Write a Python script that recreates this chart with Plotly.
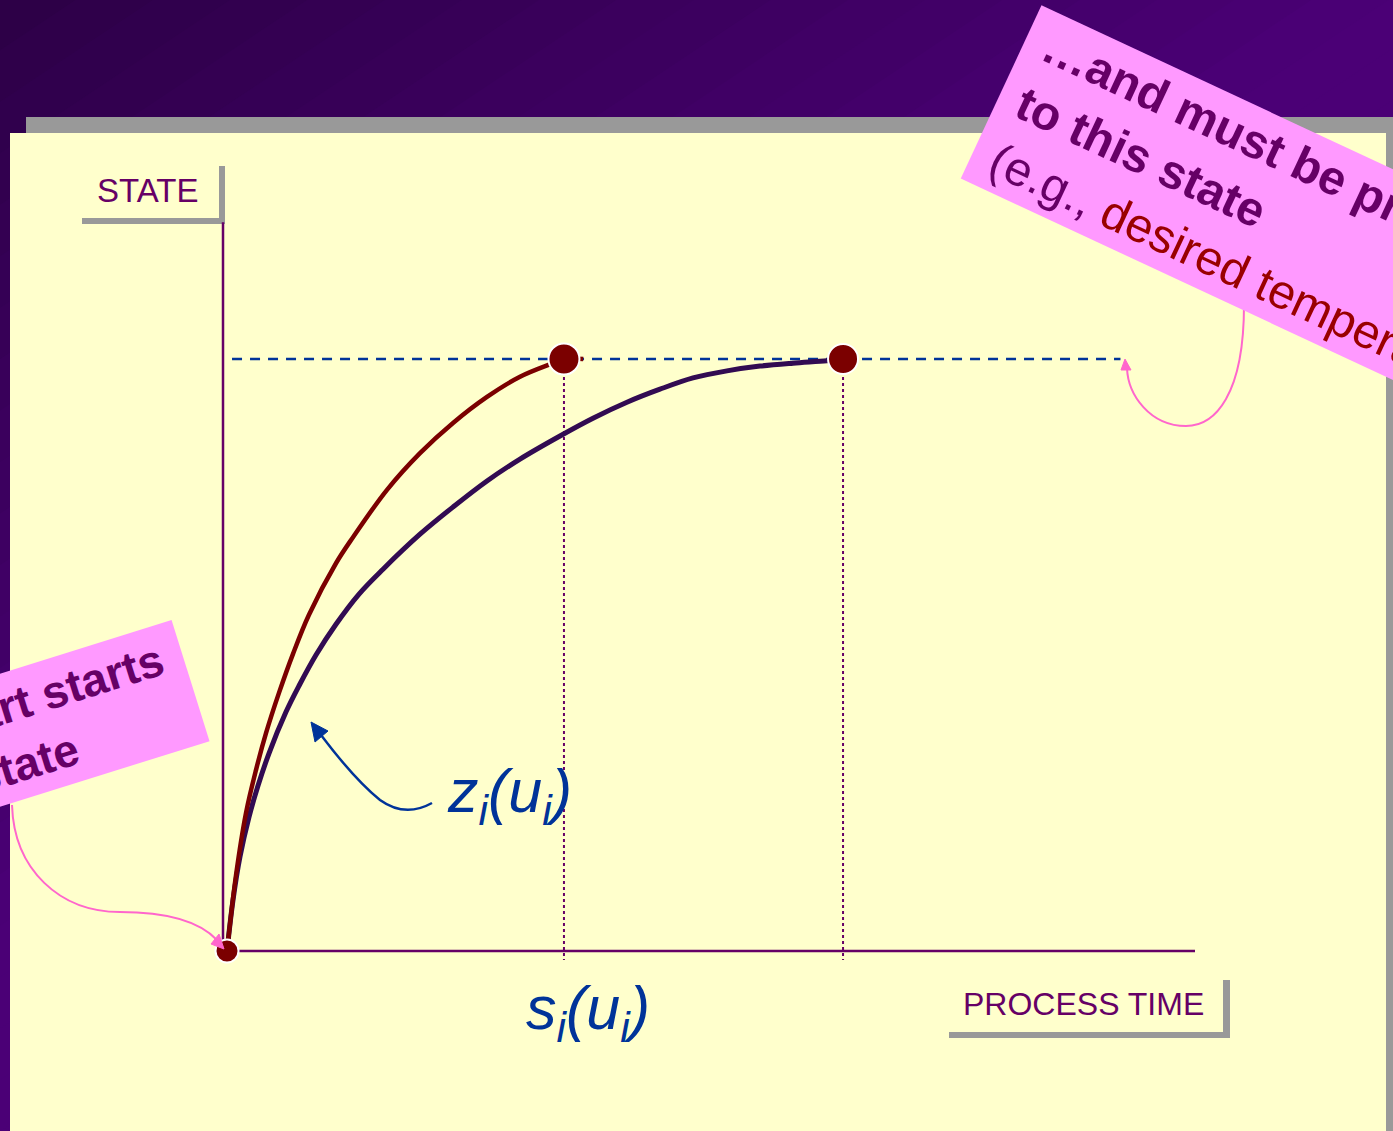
import plotly.graph_objects as go

# ---------------- data (process time in arbitrary units, state normalised to target = 1) -------------
t_fast = [0, 0.93, 1.96, 3.00, 4.03, 5.37, 6.82, 8.47, 11.26, 13.02, 16.53, 19.94, 23.35, 26.86,
          30.27, 33.68, 34.81, 36.8]
z_fast = [0, 0.128, 0.233, 0.306, 0.368, 0.436, 0.502, 0.568, 0.655, 0.699, 0.779, 0.841, 0.892,
          0.936, 0.970, 0.993, 1.0, 1.0]

t_slow = [0, 0.62, 1.34, 2.27, 3.20, 4.34, 6.10, 7.44, 9.19, 11.26, 13.64, 16.12, 19.94, 23.35,
          26.86, 30.27, 34.40, 37.81, 41.32, 44.73, 48.14, 51.65, 55.06, 58.47, 61.98, 63.64]
z_slow = [0, 0.086, 0.159, 0.226, 0.279, 0.334, 0.404, 0.448, 0.500, 0.552, 0.603, 0.645, 0.704,
          0.750, 0.794, 0.831, 0.870, 0.900, 0.927, 0.949, 0.968, 0.980, 0.988, 0.993, 0.997, 1.0]

start_state = 0.0
target_state = 1.0
finish_times = [34.81, 63.64]          # completion times of the two curves
target_line_t = [0.52, 92.3]           # extent of the dashed target-state line
axis_t_max = 100.0
axis_state_max = 1.231

# ---------------- geometry helpers (pixel -> axis units, used only for decorations) ----------------
W, H = 1393, 1131
OX, OY, SX, SY = 227.0, 951.0, 9.68, 592.0


def X(px):
    return (px - OX) / SX


def Y(py):
    return (OY - py) / SY


def P(*pts):
    return " ".join(f"{X(a):.4f},{Y(b):.4f}" for a, b in pts)


PURPLE_TXT = "#660066"
BLUE = "#003399"
PINK = "#FF99FF"
PINK_LINE = "#FF66CC"
FONT = "Liberation Sans, Arial, sans-serif"

shapes = []


def rect(x0, y0, x1, y1, color, layer="below"):
    shapes.append(dict(type="rect", xref="x", yref="y", x0=X(x0), x1=X(x1), y0=Y(y0), y1=Y(y1),
                       fillcolor=color, line=dict(width=0), layer=layer))


# diagonal purple gradient background
def lerp(c1, c2, t):
    return "#%02x%02x%02x" % tuple(int(round(a + (b - a) * t)) for a, b in zip(c1, c2))


c_dark, c_light = (0x2C, 0x00, 0x46), (0x4B, 0x00, 0x76)
k = 1.5
cmax = W + k * H
N = 40
for i in range(N):
    a = cmax * i / N - 2
    b = cmax * (i + 1) / N + 2
    t = min(1.0, (a + b) / 2 / W)
    path = ("M " + P((a, 0)) + " L " + P((b, 0)) + " L " + P((b - k * H, H)) +
            " L " + P((a - k * H, H)) + " Z")
    shapes.append(dict(type="path", xref="x", yref="y", path=path,
                       fillcolor=lerp(c_dark, c_light, t), line=dict(width=0), layer="below"))

# slide panel with shadow
rect(26, 117, 1420, 1150, "#999999")
rect(10, 133, 1386, 1150, "#FFFFCC")

# label boxes
rect(82, 218, 225, 224, "#999999")
rect(219, 166, 225, 224, "#999999")
rect(949, 1032, 1230, 1038, "#999999")
rect(1223, 980, 1230, 1038, "#999999")

# axes
shapes.append(dict(type="line", xref="x", yref="y", x0=X(223), x1=X(223), y0=start_state,
                   y1=axis_state_max, line=dict(color=PURPLE_TXT, width=2.5), layer="below"))
shapes.append(dict(type="line", xref="x", yref="y", x0=X(239), x1=axis_t_max, y0=start_state,
                   y1=start_state, line=dict(color=PURPLE_TXT, width=2.5), layer="below"))

# blue arrow to z_i(u_i)
shapes.append(dict(type="path", xref="x", yref="y",
                   path=f"M {P((432, 803))} Q {P((405, 818))} {P((380, 800))} Q {P((355, 780))} {P((321, 735))}",
                   line=dict(color=BLUE, width=2.5), layer="above"))
shapes.append(dict(type="path", xref="x", yref="y",
                   path=f"M {P((311, 722))} L {P((328, 731))} L {P((315, 742))} Z",
                   fillcolor=BLUE, line=dict(color=BLUE, width=1), layer="above"))

# pink arrows
shapes.append(dict(type="path", xref="x", yref="y",
                   path=f"M {P((1244, 305))} C {P((1244, 395))} {P((1215, 426))} {P((1186, 426))} "
                        f"C {P((1150, 426))} {P((1128, 395))} {P((1127, 368))}",
                   line=dict(color=PINK_LINE, width=2), layer="above"))
shapes.append(dict(type="path", xref="x", yref="y",
                   path=f"M {P((1125, 359))} L {P((1131, 370))} L {P((1121, 370))} Z",
                   fillcolor=PINK_LINE, line=dict(color=PINK_LINE, width=1), layer="above"))
shapes.append(dict(type="path", xref="x", yref="y",
                   path=f"M {P((12, 805))} C {P((14, 870))} {P((60, 912))} {P((120, 912))} "
                        f"C {P((170, 912))} {P((200, 922))} {P((217, 940))}",
                   line=dict(color=PINK_LINE, width=2), layer="above"))
shapes.append(dict(type="path", xref="x", yref="y",
                   path=f"M {P((224, 949))} L {P((211, 944))} L {P((219, 934))} Z",
                   fillcolor=PINK_LINE, line=dict(color=PINK_LINE, width=1), layer="above"))

# ---------------- traces ----------------
fig = go.Figure()

fig.add_trace(go.Scatter(x=target_line_t, y=[target_state, target_state], mode="lines",
                         line=dict(color=BLUE, width=2.5, dash="10px,8px"), hoverinfo="skip"))
for ft in finish_times:
    fig.add_trace(go.Scatter(x=[ft, ft], y=[target_state, -0.015], mode="lines",
                             line=dict(color=PURPLE_TXT, width=2, dash="dot"), hoverinfo="skip"))

fig.add_trace(go.Scatter(x=t_slow, y=z_slow, mode="lines",
                         line=dict(color="#320B52", width=5, shape="spline", smoothing=1.0)))
fig.add_trace(go.Scatter(x=t_fast, y=z_fast, mode="lines",
                         line=dict(color="#7B0000", width=4.5, shape="spline", smoothing=1.0)))

fig.add_trace(go.Scatter(x=[0] + finish_times, y=[start_state, target_state, target_state],
                         mode="markers",
                         marker=dict(color="#7B0000", size=[23, 31, 30], opacity=1,
                                     line=dict(color="white", width=2))))

# ---------------- annotations ----------------
NB = "&nbsp;"
annotations = [
    dict(x=X(147), y=Y(190), text="STATE", showarrow=False,
         font=dict(family=FONT, size=33, color=PURPLE_TXT)),
    dict(x=X(1083), y=Y(1004), text="PROCESS TIME", showarrow=False,
         font=dict(family=FONT, size=32, color=PURPLE_TXT)),
    dict(x=X(509), y=Y(795), text="<i>z<sub>i</sub>(u<sub>i</sub>)</i>", showarrow=False,
         font=dict(family=FONT, size=61, color=BLUE)),
    dict(x=X(588), y=Y(1012), text="<i>s<sub>i</sub>(u<sub>i</sub>)</i>", showarrow=False,
         font=dict(family=FONT, size=61, color=BLUE)),
    dict(x=X(1278), y=Y(221), textangle=25, align="left", bgcolor=PINK, borderpad=6,
         text=f"<b>{NB}…and must be processed</b><br><b>{NB}to this state</b><br>"
              f"{NB}(e.g., <span style='color:#990000'>desired temperature)</span>",
         showarrow=False, font=dict(family=FONT, size=48, color=PURPLE_TXT)),
    dict(x=X(4), y=Y(739), textangle=-17.4, align="left", bgcolor=PINK, borderpad=7,
         text="<b>Every part starts&nbsp;</b><br><b>in this state</b>",
         showarrow=False, font=dict(family=FONT, size=46, color=PURPLE_TXT)),
]
for a in annotations:
    a.update(xref="x", yref="y", xanchor="center", yanchor="middle")

fig.update_layout(
    width=W, height=H, autosize=False,
    margin=dict(l=0, r=0, t=0, b=0, pad=0),
    paper_bgcolor="#3C0060", plot_bgcolor="rgba(0,0,0,0)",
    showlegend=False,
    xaxis=dict(range=[X(0), X(W)], domain=[0, 1], visible=False, fixedrange=True),
    yaxis=dict(range=[Y(H), Y(0)], domain=[0, 1], visible=False, fixedrange=True),
    shapes=shapes, annotations=annotations,
)

fig.write_html("out.html", config={"displayModeBar": False},
               post_script="document.body.style.margin='0px';")
